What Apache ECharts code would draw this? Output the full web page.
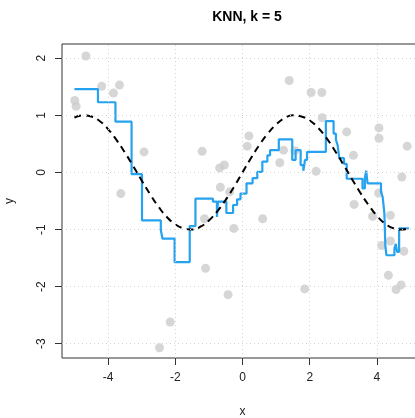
<!DOCTYPE html>
<html><head><meta charset="utf-8">
<script src="https://cdn.jsdelivr.net/npm/echarts@6/dist/echarts.min.js"></script>
<style>html,body{margin:0;padding:0;background:#fff}#c{width:415px;height:418px}</style>
</head><body><div id="c"></div>
<script>
const pointX = [-4.66,-4.19,-3.66,-3.84,-4.99,-4.95,-2.93,-1.20,-0.68,-0.54,-0.66,-3.62,-0.38,-1.13,-0.26,-1.10,-0.43,-2.15,-2.47,1.39,2.04,2.36,2.37,3.10,4.06,4.06,4.90,0.19,0.14,1.22,1.56,1.11,2.19,3.30,4.74,4.05,0.60,1.85,3.32,3.87,4.40,4.14,4.40,4.80,4.34,4.72,4.57];
const pointY = [2.04,1.51,1.53,1.39,1.26,1.16,0.36,0.37,0.08,0.13,-0.26,-0.37,-0.34,-0.81,-0.98,-1.68,-2.14,-2.62,-3.07,1.61,1.40,1.40,0.96,0.71,0.78,0.60,0.46,0.64,0.46,0.39,0.38,0.17,0.02,0.30,-0.08,-0.36,-0.81,-2.04,-0.56,-0.77,-0.75,-1.28,-1.20,-1.38,-1.80,-1.97,-2.05];
const stepX = [-5.00,-4.30,-3.78,-3.30,-2.99,-2.43,-2.38,-2.02,-1.57,-1.40,-0.88,-0.76,-0.73,-0.48,-0.28,-0.16,-0.06,0.12,0.30,0.44,0.59,0.74,0.82,1.08,1.48,1.58,1.73,1.81,1.86,1.92,2.48,2.71,2.78,2.83,2.88,3.02,3.10,3.57,3.64,3.68,3.72,4.12,4.17,4.22,4.25,4.28,4.52,4.56,4.60,4.66,4.95];
const stepY = [1.46,1.23,0.89,-0.03,-0.84,-1.01,-1.16,-1.57,-0.94,-0.46,-0.51,-0.78,-0.51,-0.71,-0.57,-0.47,-0.37,-0.19,-0.10,0.01,0.19,0.30,0.39,0.58,0.22,0.39,0.13,0.03,0.22,0.36,0.90,0.68,0.57,0.48,0.25,0.15,-0.11,-0.28,-0.10,0.03,-0.19,-0.34,-0.43,-0.71,-1.28,-1.45,-1.33,-1.25,-1.39,-0.98,-0.98];
const curveX = [-5,-4.75,-4.5,-4.25,-4,-3.75,-3.5,-3.25,-3,-2.75,-2.5,-2.25,-2,-1.75,-1.5,-1.25,-1,-0.75,-0.5,-0.25,0,0.25,0.5,0.75,1,1.25,1.5,1.75,2,2.25,2.5,2.75,3,3.25,3.5,3.75,4,4.25,4.5,4.75,5];
const curveY = [0.96,1.00,0.98,0.90,0.76,0.57,0.35,0.11,-0.14,-0.38,-0.60,-0.78,-0.91,-0.98,-1.00,-0.95,-0.84,-0.68,-0.48,-0.25,0.00,0.25,0.48,0.68,0.84,0.95,1.00,0.98,0.91,0.78,0.60,0.38,0.14,-0.11,-0.35,-0.57,-0.76,-0.90,-0.98,-1.00,-0.96];
const xTicks = [-4,-2,0,2,4];
const yTicks = [-3,-2,-1,0,1,2];
const titleText = 'KNN, k = 5';

const font = 'Liberation Sans, Arial, Helvetica, sans-serif';
const chart = echarts.init(document.getElementById('c'), null, {renderer:'canvas'});
const gridLines = xTicks.map(v => ({xAxis: v})).concat(yTicks.map(v => ({yAxis: v})));
chart.setOption({
  animation: false,
  backgroundColor: '#fff',
  title: {text: titleText, left: 242, top: 5, textAlign: 'center',
    textStyle: {fontFamily: font, fontSize: 14, fontWeight: 'bold', color: '#000'}},
  grid: {left: 62, right: -8, top: 44, bottom: 60, containLabel: false, outerBoundsMode: 'none',
    show: true, borderColor: '#333', borderWidth: 1, backgroundColor: 'transparent'},
  xAxis: {type: 'value', min: -5.37, max: 5.37, name: 'x', nameLocation: 'middle', nameGap: 48,
    nameTextStyle: {fontFamily: font, fontSize: 12, color: '#222'},
    axisLine: {show: false, onZero: false}, splitLine: {show: false},
    axisTick: {show: true, length: 7, customValues: xTicks, lineStyle: {color: '#333'}},
    axisLabel: {customValues: xTicks, margin: 14, fontFamily: font, fontSize: 12, color: '#222'}},
  yAxis: {type: 'value', min: -3.25, max: 2.25, name: 'y', nameLocation: 'middle', nameGap: 46,
    nameTextStyle: {fontFamily: font, fontSize: 12, color: '#222'},
    axisLine: {show: false, onZero: false}, splitLine: {show: false},
    axisTick: {show: true, length: 7, customValues: yTicks, lineStyle: {color: '#333'}},
    axisLabel: {customValues: yTicks, rotate: 90, margin: 14, fontFamily: font, fontSize: 12, color: '#222'}},
  series: [
    {type: 'scatter', z: 2, symbolSize: 9, itemStyle: {color: '#cccccc'},
     data: pointX.map((x, i) => [x, pointY[i]]),
     markLine: {silent: true, symbol: 'none', label: {show: false},
       lineStyle: {color: '#d3d3d3', type: [1, 3], width: 1}, data: gridLines}},
    {type: 'line', z: 3, step: 'end', showSymbol: false, lineStyle: {color: '#26a2f0', width: 2.2},
     data: stepX.map((x, i) => [x, stepY[i]])},
    {type: 'line', z: 4, smooth: true, showSymbol: false, lineStyle: {color: '#000', width: 2, type: [7, 5]},
     data: curveX.map((x, i) => [x, curveY[i]])}
  ]
});
</script></body></html>
